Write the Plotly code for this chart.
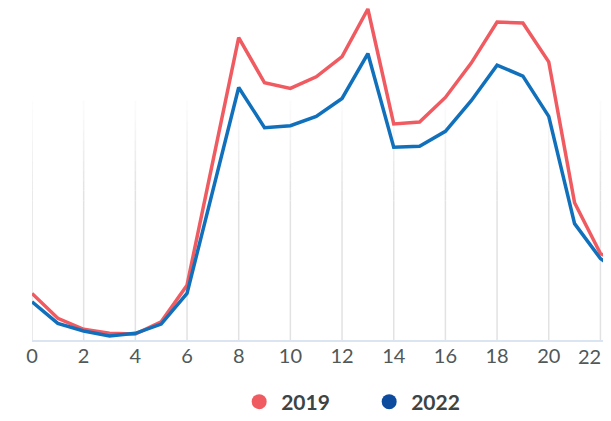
import plotly.graph_objects as go

hours = list(range(24))
series_2019 = [46.7, 21.7, 10.7, 6.7, 6.0, 18.3, 55.0, 179.0, 303.3, 258.0, 252.3, 264.0,
               284.3, 332.0, 216.7, 218.7, 243.3, 277.7, 319.0, 318.0, 279.0, 137.7, 86.7, 74.0]
series_2022 = [38.3, 16.7, 9.0, 4.0, 6.7, 16.0, 46.7, 149.0, 253.3, 213.0, 215.0, 224.3,
               242.3, 287.3, 193.3, 194.3, 209.3, 240.0, 275.7, 264.7, 224.3, 116.7, 81.7, 63.0]
tick_vals = list(range(0, 23, 2))
tick_labels = [str(v) for v in tick_vals]

RED = "#ef5b60"
BLUE = "#1170bb"
BLUE_LEG = "#0d4b9f"
TICK_COLOR = "#505858"
Y_MAX = 333

fig = go.Figure()
fig.add_trace(go.Scatter(x=hours, y=series_2019, mode="lines", name="2019",
                         line=dict(color=RED, width=3.5), showlegend=False))
fig.add_trace(go.Scatter(x=hours, y=series_2022, mode="lines", name="2022",
                         line=dict(color=BLUE, width=3.5), showlegend=False))
# legend entries (circle markers)
fig.add_trace(go.Scatter(x=[None], y=[None], mode="markers", name="2019",
                         marker=dict(color=RED, size=15, symbol="circle")))
fig.add_trace(go.Scatter(x=[None], y=[None], mode="markers", name="2022",
                         marker=dict(color=BLUE_LEG, size=15, symbol="circle")))

# fading vertical gridlines
shapes = []
fade_top = 240   # value where gridline begins (transparent)
fade_bot = 140   # value where gridline fully visible
steps = 10
for tv in tick_vals:
    for i in range(steps):
        y1 = fade_top - (fade_top - fade_bot) * i / steps
        y0 = fade_top - (fade_top - fade_bot) * (i + 1) / steps
        shapes.append(dict(type="line", xref="x", yref="y", x0=tv, x1=tv, y0=y0, y1=y1,
                           line=dict(color="#e2e2e2", width=1.5), opacity=(i + 1) / steps,
                           layer="below"))
    shapes.append(dict(type="line", xref="x", yref="y", x0=tv, x1=tv, y0=0, y1=fade_bot,
                       line=dict(color="#e2e2e2", width=1.5), layer="below"))

fig.update_layout(
    width=595, height=405,
    margin=dict(l=24, r=0, t=0, b=73, autoexpand=False),
    paper_bgcolor="white", plot_bgcolor="white",
    font=dict(family="Lato", color="#4f5656"),
    shapes=shapes,
    showlegend=True,
    legend=dict(orientation="h", x=0.587, xanchor="center", y=-0.125, yanchor="top",
                font=dict(family="Lato", size=21, color="#3b4545", weight="bold"),
                itemwidth=34, tracegroupgap=0, entrywidthmode="pixels", entrywidth=81),
)
# last tick label placed flush with the right edge so it stays visible
fig.add_annotation(text=tick_labels[-1], xref="paper", yref="paper", x=1, y=0,
                   xanchor="right", yanchor="middle", yshift=-16, showarrow=False,
                   font=dict(family="Lato", size=20, color=TICK_COLOR))
fig.update_xaxes(range=[0, 22.1], tickvals=tick_vals[:-1], ticktext=tick_labels[:-1],
                 showgrid=False, zeroline=False, showline=True, linecolor="#dbe5f1",
                 linewidth=2, ticks="", tickfont=dict(size=20, color=TICK_COLOR),
                 ticklabelstandoff=-3, automargin=False)
fig.update_yaxes(range=[0, Y_MAX], visible=False, showgrid=False, zeroline=False)

fig.write_html("out.html")
